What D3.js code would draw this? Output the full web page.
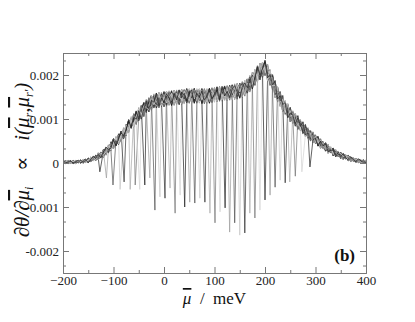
<!DOCTYPE html>
<html>
<head>
<meta charset="utf-8">
<script src="https://cdn.jsdelivr.net/npm/d3@7/dist/d3.min.js"></script>
<style>
  body { margin: 0; background: #fff; }
  text { font-family: "Liberation Serif", "DejaVu Serif", serif; }
</style>
</head>
<body>
<div id="chart"></div>
<script>
// sampled every 5 meV from -200 to 400, values in 1e-3
var muStart = -200, muStep = 5;
var envelope = [
  0.02,0.02,0.02,0.02,0.02,0.02,0.03,0.03,0.04,0.05,
  0.06,0.08,0.10,0.12,0.15,0.18,0.22,0.27,0.32,0.38,
  0.44,0.49,0.54,0.60,0.67,0.75,0.84,0.91,0.97,1.03,
  1.10,1.16,1.22,1.29,1.33,1.37,1.40,1.42,1.43,1.44,
  1.45,1.46,1.47,1.47,1.48,1.49,1.49,1.50,1.51,1.52,
  1.53,1.53,1.53,1.53,1.53,1.52,1.52,1.52,1.53,1.54,
  1.55,1.56,1.57,1.57,1.58,1.59,1.60,1.61,1.62,1.63,
  1.65,1.67,1.70,1.75,1.80,1.87,1.95,2.02,2.08,2.12,
  2.15,2.06,1.95,1.82,1.68,1.56,1.45,1.35,1.26,1.18,
  1.10,1.04,0.98,0.92,0.86,0.80,0.74,0.68,0.62,0.58,
  0.54,0.49,0.44,0.40,0.36,0.32,0.29,0.25,0.22,0.19,
  0.17,0.15,0.13,0.11,0.09,0.07,0.06,0.05,0.04,0.035,
  0.03
];
// half width of the band of curves, every 10 meV, 1e-3
var spread = [
  0.04,0.04,0.04,0.04,0.05,0.06,
  0.07,0.09,0.10,0.12,0.13,
  0.14,0.15,0.16,0.17,0.18,0.18,0.19,0.19,0.19,0.19,
  0.19,0.19,0.19,0.19,0.19,0.19,0.19,0.19,0.19,0.19,
  0.19,0.19,0.19,0.20,0.20,0.20,0.21,0.21,0.21,0.21,
  0.21,0.21,0.20,0.19,0.18,0.17,0.16,0.15,0.14,0.13,
  0.12,0.11,0.10,0.09,0.08,0.07,0.06,0.05,0.04,0.04
];
// jagged noise of the curves, tenths of the band half width
var wiggle0 = [
  3,-5,6,-2,8,-7,1,9,-4,2, -8,5,-1,7,-6,0,4,-9,6,-3, 8,-2,-7,5,1,-5,9,-1,3,-8,
  6,-4,2,7,-6,0,-3,8,-5,4, -9,1,6,-2,5,-7,3,9,-1,-4, 7,-8,2,6,-3,0,8,-6,4,-2,
  5,-9,1,7,-5,3,-1,9,-7,2, -4,6,0,-8,5,-3,8,-1,4,-6, 2,7,-9,3,-2,6,-5,1,8,-4,
  0,5,-7,9,-3,2,-6,4,7,-1, -8,3,6,-2,5,-9,0,8,-4,1, 7,-6,3,-2,9,-5,4,-1,6,-8, 2
];
var wiggle1 = [
  -4,7,-1,-6,3,9,-5,2,-8,6, 1,-3,8,-7,4,-2,6,-9,0,5, -6,3,7,-4,-1,8,-5,2,-7,9,
  -2,4,-8,1,6,-3,5,-6,8,-1, 3,-9,2,7,-5,0,4,-2,9,-7, 1,6,-4,-8,3,5,-1,7,-6,2,
  8,-3,-5,4,9,-7,0,6,-2,-9, 5,1,-6,8,-4,3,7,-8,2,-1, 6,-5,4,-3,9,-7,1,5,-2,8,
  -6,0,3,-9,7,-4,2,6,-1,-5, 8,-2,4,-7,1,9,-3,5,-8,0, 6,-4,2,7,-6,3,-9,1,5,-3, 4
];
var wiggle2 = [
  6,0,-3,5,-8,2,7,-4,1,-6, 9,-2,4,-7,3,8,-5,-1,6,-9, 2,5,-4,7,-8,1,3,-6,9,-2,
  -5,8,0,-3,6,-7,4,2,-9,5, -1,7,-6,3,8,-4,-2,9,-5,1, 4,-7,6,-1,-3,8,-9,2,5,-6,
  0,7,-2,-4,9,-8,3,1,-5,6, -3,4,8,-7,2,-1,5,-9,7,-4, 3,-6,1,9,-2,4,-8,6,0,-5,
  7,-3,2,-9,5,1,-4,8,-7,3, -2,6,-5,0,9,-1,4,-8,2,7, -6,5,-3,8,-4,1,6,-9,3,-2, 5
];
var wiggle3 = [
  -2,8,-6,1,4,-9,5,-3,7,0, -5,2,9,-4,-7,3,6,-1,8,-8, 4,-2,1,6,-5,-3,9,-7,2,5,
  -4,7,-9,3,0,8,-6,1,-2,6, -8,4,5,-3,-1,9,-7,2,6,-5, 3,-1,8,-6,4,-9,1,7,-3,5,
  -2,-6,9,-4,2,8,-7,3,-5,1, 6,-8,5,0,-3,7,-2,-6,9,-4, 1,8,-5,3,-7,2,6,-1,-9,4,
  -3,5,-8,7,1,-6,9,-2,4,-7, 3,0,-4,8,-5,6,-1,2,-9,7, -3,4,1,-8,5,-6,9,-2,3,-1, -4
];
var wiggles = [wiggle0, wiggle1, wiggle2, wiggle3];

// one curve per dip: position (meV) and bottom (1e-3)
var dipMu = [-127,-114,-101,-87,-79,-67,-57,-48,-38,-28,-18,-8,2,12,22,32,41,51,61,71,
             81,91,101,111,121,130,140,150,160,170,180,190,200,210,220,230,240,249,260,273,289];
var dipDepth = [-0.20,-0.34,-0.50,-0.60,-0.43,-0.60,-0.50,-0.60,-0.50,-0.34,-1.07,-0.77,-0.80,-0.57,-1.14,-0.73,-1.00,-0.89,-0.91,-0.80,
                -0.89,-1.14,-1.36,-1.11,-1.02,-1.57,-1.36,-1.64,-1.59,-1.14,-1.25,-1.07,-0.84,-0.73,-0.55,-0.39,-0.45,-0.43,-0.30,-0.20,-0.09];

var xTicks = [-200, -100, 0, 100, 200, 300, 400];
var xMinor = [-150, -50, 50, 150, 250, 350];
var yTicks = [-0.002, -0.001, 0, 0.001, 0.002];
var yTickLabels = ['-0.002', '-0.001', '0', '0.001', '0.002'];
var yMinor = [-0.00233, -0.00167, -0.00133, -0.00067, -0.00033, 0.00033, 0.00067, 0.00133, 0.00167, 0.00233];
var shades = ['#1e1e1e', '#9c9c9c', '#505050', '#c6c6c6', '#2e2e2e', '#ababab', '#737373', '#d2d2d2'];

var W = 415, H = 322;
var margin = { top: 53, right: 49, bottom: 49, left: 63 };
var width = W - margin.left - margin.right,
    height = H - margin.top - margin.bottom;
var serif = '"Liberation Serif", "DejaVu Serif", serif';

var svg = d3.select('#chart').append('svg')
  .attr('width', W).attr('height', H);
var g = svg.append('g')
  .attr('transform', 'translate(' + margin.left + ',' + margin.top + ')');

var x = d3.scaleLinear().domain([-200, 400]).range([0, width]);
var y = d3.scaleLinear().domain([-0.0025, 0.0025]).range([height, 0]);

// build the curves
var curves = dipMu.map(function(m, k) {
  var w = wiggles[k % 4], off = Math.floor(k / 4) * 3;
  var pts = [];
  envelope.forEach(function(e, i) {
    var mu = muStart + i * muStep;
    if (Math.abs(mu - m) < 2.5) return;
    var n = w[(i + off) % w.length] || 0;
    pts.push([mu, (e + spread[Math.floor(i / 2)] * n / 10) * 1e-3]);
  });
  pts.push([m, dipDepth[k] * 1e-3]);
  pts.sort(function(a, b) { return a[0] - b[0]; });
  return pts;
});

g.append('clipPath').attr('id', 'clip')
  .append('rect').attr('width', width).attr('height', height);

var line = d3.line()
  .x(function(d) { return x(d[0]); })
  .y(function(d) { return y(d[1]); });

g.append('g').attr('clip-path', 'url(#clip)')
  .selectAll('path').data(curves).enter().append('path')
  .attr('d', line)
  .attr('fill', 'none')
  .attr('stroke', function(d, k) { return shades[k % shades.length]; })
  .attr('stroke-width', 0.7);

// axes, ticks pointing inward on all four sides
function styleAxis(sel) {
  sel.attr('font-family', serif).attr('font-size', 13);
  sel.select('.domain').attr('stroke', '#777');
  sel.selectAll('.tick line').attr('stroke', '#777');
  sel.selectAll('.tick text').attr('fill', '#222')
    .style('font-family', serif).style('font-size', '13px');
}

g.append('g').attr('transform', 'translate(0,' + height + ')')
  .call(d3.axisBottom(x).tickValues(xTicks).tickSize(-6).tickSizeOuter(0).tickPadding(3).tickFormat(d3.format('d')))
  .call(styleAxis);
g.append('g').attr('transform', 'translate(0,' + height + ')')
  .call(d3.axisBottom(x).tickValues(xMinor).tickSize(-3).tickSizeOuter(0).tickFormat(''))
  .call(styleAxis);
g.append('g')
  .call(d3.axisTop(x).tickValues(xTicks).tickSize(-6).tickSizeOuter(0).tickFormat(''))
  .call(styleAxis);
g.append('g')
  .call(d3.axisTop(x).tickValues(xMinor).tickSize(-3).tickSizeOuter(0).tickFormat(''))
  .call(styleAxis);

g.append('g')
  .call(d3.axisLeft(y).tickValues(yTicks).tickSize(-6).tickSizeOuter(0).tickPadding(4)
    .tickFormat(function(d, i) { return yTickLabels[i]; }))
  .call(styleAxis);
g.append('g')
  .call(d3.axisLeft(y).tickValues(yMinor).tickSize(-3).tickSizeOuter(0).tickFormat(''))
  .call(styleAxis);
g.append('g').attr('transform', 'translate(' + width + ',0)')
  .call(d3.axisRight(y).tickValues(yTicks).tickSize(-6).tickSizeOuter(0).tickFormat(''))
  .call(styleAxis);
g.append('g').attr('transform', 'translate(' + width + ',0)')
  .call(d3.axisRight(y).tickValues(yMinor).tickSize(-3).tickSizeOuter(0).tickFormat(''))
  .call(styleAxis);

// x title
var xt = svg.append('text')
  .attr('x', margin.left + width / 2).attr('y', 304)
  .attr('text-anchor', 'middle').attr('fill', '#111')
  .style('font-family', serif).style('font-size', '17px');
xt.append('tspan').style('font-style', 'italic').style('text-decoration', 'overline').text('\u03BC');
xt.append('tspan').text('\u00A0\u00A0/\u00A0\u00A0meV');

// y title
var yt = svg.append('text')
  .attr('transform', 'translate(29,' + (margin.top + height / 2 - 3) + ') rotate(-90)')
  .attr('text-anchor', 'middle').attr('fill', '#111')
  .style('font-family', serif).style('font-size', '21px');
yt.append('tspan').style('font-style', 'italic').text('\u2202\u03B8/\u2202');
yt.append('tspan').style('font-style', 'italic').style('text-decoration', 'overline').text('\u03BC');
yt.append('tspan').attr('dy', 4).style('font-size', '12px').style('font-style', 'italic').text('i');
yt.append('tspan').attr('dy', -4).text('\u00A0\u00A0\u00A0\u221D\u00A0\u00A0\u00A0');
yt.append('tspan').style('font-style', 'italic').text('i(');
yt.append('tspan').style('font-style', 'italic').style('text-decoration', 'overline').text('\u03BC');
yt.append('tspan').attr('dy', 4).style('font-size', '12px').style('font-style', 'italic').text('r');
yt.append('tspan').attr('dy', -4).style('font-style', 'italic').text(',');
yt.append('tspan').style('font-style', 'italic').style('text-decoration', 'overline').text('\u03BC');
yt.append('tspan').attr('dy', 4).style('font-size', '12px').style('font-style', 'italic').text('r\u2032');
yt.append('tspan').attr('dy', -4).style('font-style', 'italic').text(')');

// panel label
svg.append('text')
  .attr('x', 355).attr('y', 261)
  .attr('text-anchor', 'end').attr('fill', '#111')
  .style('font-family', serif).style('font-size', '17px').style('font-weight', 'bold')
  .text('(b)');
</script>
</body>
</html>
